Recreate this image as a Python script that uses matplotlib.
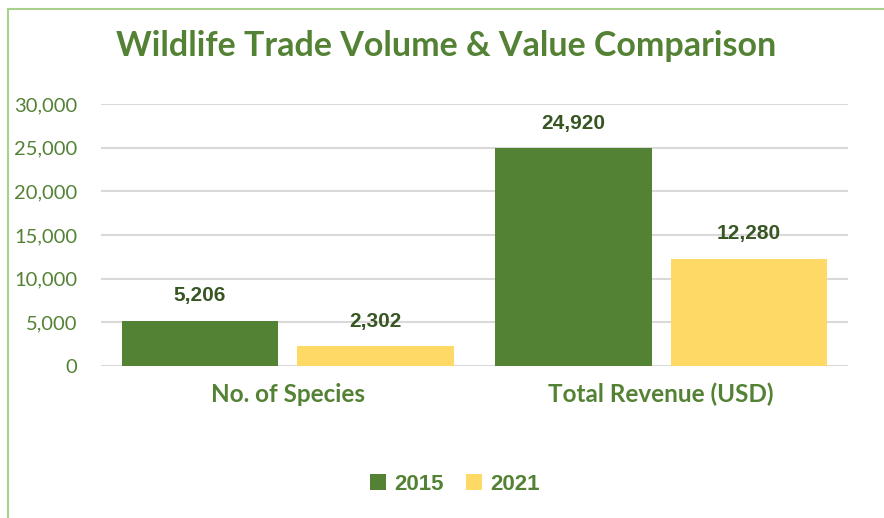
import numpy as np
import matplotlib
matplotlib.use("Agg")
import matplotlib.pyplot as plt
from matplotlib.patches import Rectangle

categories = ["No. of Species", "Total Revenue (USD)"]
years = ["2015", "2021"]
values_2015 = [5206, 24920]
values_2021 = [2302, 12280]
yticks = [0, 5000, 10000, 15000, 20000, 25000, 30000]

GREEN = "#548235"
YELLOW = "#FFD966"
DARK = "#375623"
GRID = "#D9D9D9"

fig = plt.figure(figsize=(8.84, 5.18), dpi=100)
fig.patches.append(Rectangle((8 / 884, -0.1), 2, 1.1 - 9 / 518, transform=fig.transFigure,
                             fill=False, edgecolor="#A9D18E", linewidth=1.5))

ax = fig.add_axes([101 / 884, 1 - 366 / 518, (848 - 101) / 884, (366 - 104) / 518])

x = np.arange(len(categories))
w = 0.42
gap = 0.05
b1 = ax.bar(x - (w + gap) / 2, values_2015, w, color=GREEN, label=years[0], zorder=3)
b2 = ax.bar(x + (w + gap) / 2, values_2021, w, color=YELLOW, label=years[1], zorder=3)

for bars in (b1, b2):
    for r in bars:
        ax.annotate("{:,}".format(int(r.get_height())),
                    (r.get_x() + r.get_width() / 2, r.get_height()),
                    xytext=(0, 11), textcoords="offset points",
                    ha="center", va="bottom", fontsize=15, fontweight="bold",
                    color=DARK, family="Liberation Sans")

ax.set_xlim(-0.5, 1.5)
ax.set_ylim(0, 30000)
ax.set_yticks(yticks)
ax.set_yticklabels(["{:,}".format(v) for v in yticks], fontsize=14.5, color=GREEN,
                   family="Lato")
ax.set_xticks(x)
ax.set_xticklabels(categories, fontsize=17.5, fontweight="bold", color=GREEN, family="Lato")
ax.tick_params(axis="both", length=0)
ax.tick_params(axis="y", pad=17)
ax.tick_params(axis="x", pad=12)
ax.yaxis.grid(True, color=GRID, linewidth=1.5, zorder=0)
for s in ax.spines.values():
    s.set_visible(False)

fig.text(446 / 884, 1 - 46 / 518, "Wildlife Trade Volume & Value Comparison",
         ha="center", va="center", fontsize=24.5, fontweight="bold", color=GREEN,
         family="Lato")

leg = fig.legend(handles=[b1, b2], labels=years, loc="center",
                 bbox_to_anchor=(455 / 884, 1 - 484 / 518), ncol=2, frameon=False,
                 prop={"family": "Liberation Sans", "weight": "bold", "size": 16},
                 handlelength=0.7, handleheight=0.7, columnspacing=1.0, handletextpad=0.4)
for t in leg.get_texts():
    t.set_color(GREEN)

fig.savefig("out.png", dpi=100)
